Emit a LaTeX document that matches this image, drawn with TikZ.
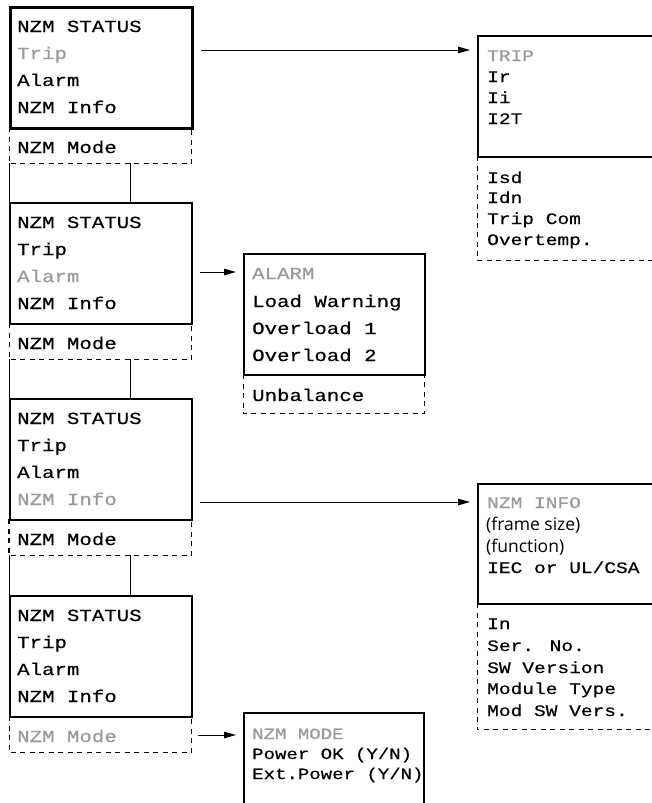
\documentclass[tikz,border=0pt]{standalone}
\usepackage{fontspec}
\usetikzlibrary{arrows.meta}
\newfontfamily\lcdfont[FakeStretch=1.22,FakeBold=0.5]{Liberation Mono}
\newfontfamily\propfont{Open Sans}
\definecolor{hlgray}{gray}{0.6}
\tikzset{
  screen/.style={draw, line width=2pt, anchor=north west, inner sep=0pt, minimum width=182pt, minimum height=121pt},
  morebox/.style={anchor=north west, inner sep=0pt, minimum width=182pt, minimum height=36pt},
  dashline/.style={line width=1pt, dash pattern=on 5pt off 4.5pt},
  conn/.style={line width=1pt},
  arr/.style={line width=1pt, -{Triangle[length=12pt,width=6.5pt]}, shorten <=7pt, shorten >=7pt},
  lcd/.style={anchor=base west, inner sep=0pt, font=\lcdfont\fontsize{17}{17}\selectfont},
  lcds/.style={anchor=base west, inner sep=0pt, font=\lcdfont\fontsize{16}{16}\selectfont},
  lcdm/.style={anchor=base west, inner sep=0pt, font=\lcdfont\fontsize{15.6}{15.6}\selectfont},
  prop/.style={anchor=base west, inner sep=0pt, font=\propfont\fontsize{17.5}{17.5}\selectfont},
  hl/.style={text=hlgray}
}
\begin{document}
\begin{tikzpicture}[x=1pt,y=-1pt]
\useasboundingbox (0,0) rectangle (652,803);
\clip (0,0) rectangle (652,803);

% ---------- left column: screen 1 ----------
\node[screen, line width=3pt] (s1) at (9,6) {};
\node[morebox] (m1) at (9,127) {};
\draw[dashline] (m1.north west) -- (m1.south west) -- (m1.south east) -- (m1.north east);
\node[lcd] (s1a) at (17,32) {NZM STATUS};
\node[lcd,hl] (s1b) at (17,59) {Trip};
\node[lcd] (s1c) at (17,86) {Alarm};
\node[lcd] (s1d) at (17,113) {NZM Info};
\node[lcd] (s1e) at (17,153) {NZM Mode};

% ---------- screen 2 ----------
\node[screen] (s2) at (9,202) {};
\node[morebox] (m2) at (9,323) {};
\draw[dashline] (m2.north west) -- (m2.south west) -- (m2.south east) -- (m2.north east);
\node[lcd] (s2a) at (17,228) {NZM STATUS};
\node[lcd] (s2b) at (17,255) {Trip};
\node[lcd,hl] (s2c) at (17,282) {Alarm};
\node[lcd] (s2d) at (17,309) {NZM Info};
\node[lcd] (s2e) at (17,349) {NZM Mode};

% ---------- screen 3 ----------
\node[screen] (s3) at (9,398) {};
\node[morebox] (m3) at (9,519) {};
\draw[dashline, line width=1.6pt] (m3.north west) -- (m3.south west) -- (m3.south east) -- (m3.north east);
\node[lcd] (s3a) at (17,424) {NZM STATUS};
\node[lcd] (s3b) at (17,451) {Trip};
\node[lcd] (s3c) at (17,478) {Alarm};
\node[lcd,hl] (s3d) at (17,505) {NZM Info};
\node[lcd] (s3e) at (17,545) {NZM Mode};

% ---------- screen 4 ----------
\node[screen] (s4) at (9,595) {};
\node[morebox] (m4) at (9,716) {};
\draw[dashline] (m4.north west) -- (m4.south west) -- (m4.south east) -- (m4.north east);
\node[lcd] (s4a) at (17,621) {NZM STATUS};
\node[lcd] (s4b) at (17,648) {Trip};
\node[lcd] (s4c) at (17,675) {Alarm};
\node[lcd] (s4d) at (17,702) {NZM Info};
\node[lcd,hl] (s4e) at (17,742) {NZM Mode};

% ---------- vertical connectors ----------
\draw[conn] (m1.south west) -- (s2.north west);
\draw[conn] ([xshift=121pt]m1.south west) -- ([xshift=121pt]s2.north west);
\draw[conn] (m2.south west) -- (s3.north west);
\draw[conn] ([xshift=121pt]m2.south west) -- ([xshift=121pt]s3.north west);
\draw[conn] (m3.south west) -- (s4.north west);
\draw[conn] ([xshift=121pt]m3.south west) -- ([xshift=121pt]s4.north west);

% ---------- TRIP ----------
\node[screen, minimum width=200pt] (trip) at (477,35) {};
\node[morebox, minimum width=200pt, minimum height=104pt] (tripm) at (477,156) {};
\draw[dashline] (tripm.north west) -- (tripm.south west) -- (tripm.south east);
\node[lcds,hl] (ta) at (487,61) {TRIP};
\node[lcds] (tb) at (487,82) {Ir};
\node[lcds] (tc) at (487,103) {Ii};
\node[lcds] (td) at (487,124) {I2T};
\node[lcds] (te) at (487,183) {Isd};
\node[lcds] (tf) at (487,203) {Idn};
\node[lcds] (tg) at (487,224) {Trip Com};
\node[lcds] (th) at (487,245) {Overtemp.};

% ---------- ALARM ----------
\node[screen, minimum width=181pt] (alarm) at (243,253) {};
\node[morebox, minimum width=181pt, minimum height=39pt] (alarmm) at (243,374) {};
\draw[dashline] (alarmm.north west) -- (alarmm.south west) -- (alarmm.south east) -- (alarmm.north east);
\node[lcd,hl] (aa) at (252,279) {ALARM};
\node[lcd] (ab) at (252,307) {Load Warning};
\node[lcd] (ac) at (252,334) {Overload 1};
\node[lcd] (ad) at (252,361) {Overload 2};
\node[lcd] (ae) at (252,401) {Unbalance};

% ---------- NZM INFO ----------
\node[screen, minimum width=200pt, minimum height=120pt] (info) at (477,483) {};
\node[morebox, minimum width=200pt, minimum height=126pt] (infom) at (477,603) {};
\draw[dashline] (infom.north west) -- (infom.south west) -- (infom.south east);
\node[lcds,hl] (ia) at (487,508) {NZM INFO};
\node[prop] (ib) at (486,530) {(frame size)};
\node[prop] (ic) at (486,552) {(function)};
\node[lcds] (id) at (487,573) {IEC or UL/CSA};
\node[lcds] (ie) at (487,629) {In};
\node[lcds] (if) at (487,651) {Ser. No.};
\node[lcds] (ig) at (487,673) {SW Version};
\node[lcds] (ih) at (487,694) {Module Type};
\node[lcds] (ii) at (487,716) {Mod SW Vers.};

% ---------- NZM MODE ----------
\node[screen, minimum width=180pt, minimum height=120pt] (mode) at (243,712) {};
\node[lcdm,hl] (ma) at (252,739) {NZM MODE};
\node[lcdm] (mb) at (252,759) {Power OK (Y/N)};
\node[lcdm] (mc) at (252,779) {Ext.Power (Y/N)};

% ---------- arrows ----------
\coordinate (y1) at (0,50);
\coordinate (y2) at (0,272);
\coordinate (y3) at (0,502);
\coordinate (y4) at (0,735);
\draw[arr] (s1.east |- y1) -- (trip.west |- y1);
\draw[arr] (s2.east |- y2) -- (alarm.west |- y2);
\draw[arr] (s3.east |- y3) -- (info.west |- y3);
\draw[arr] (m4.east |- y4) -- (mode.west |- y4);
\end{tikzpicture}
\end{document}
